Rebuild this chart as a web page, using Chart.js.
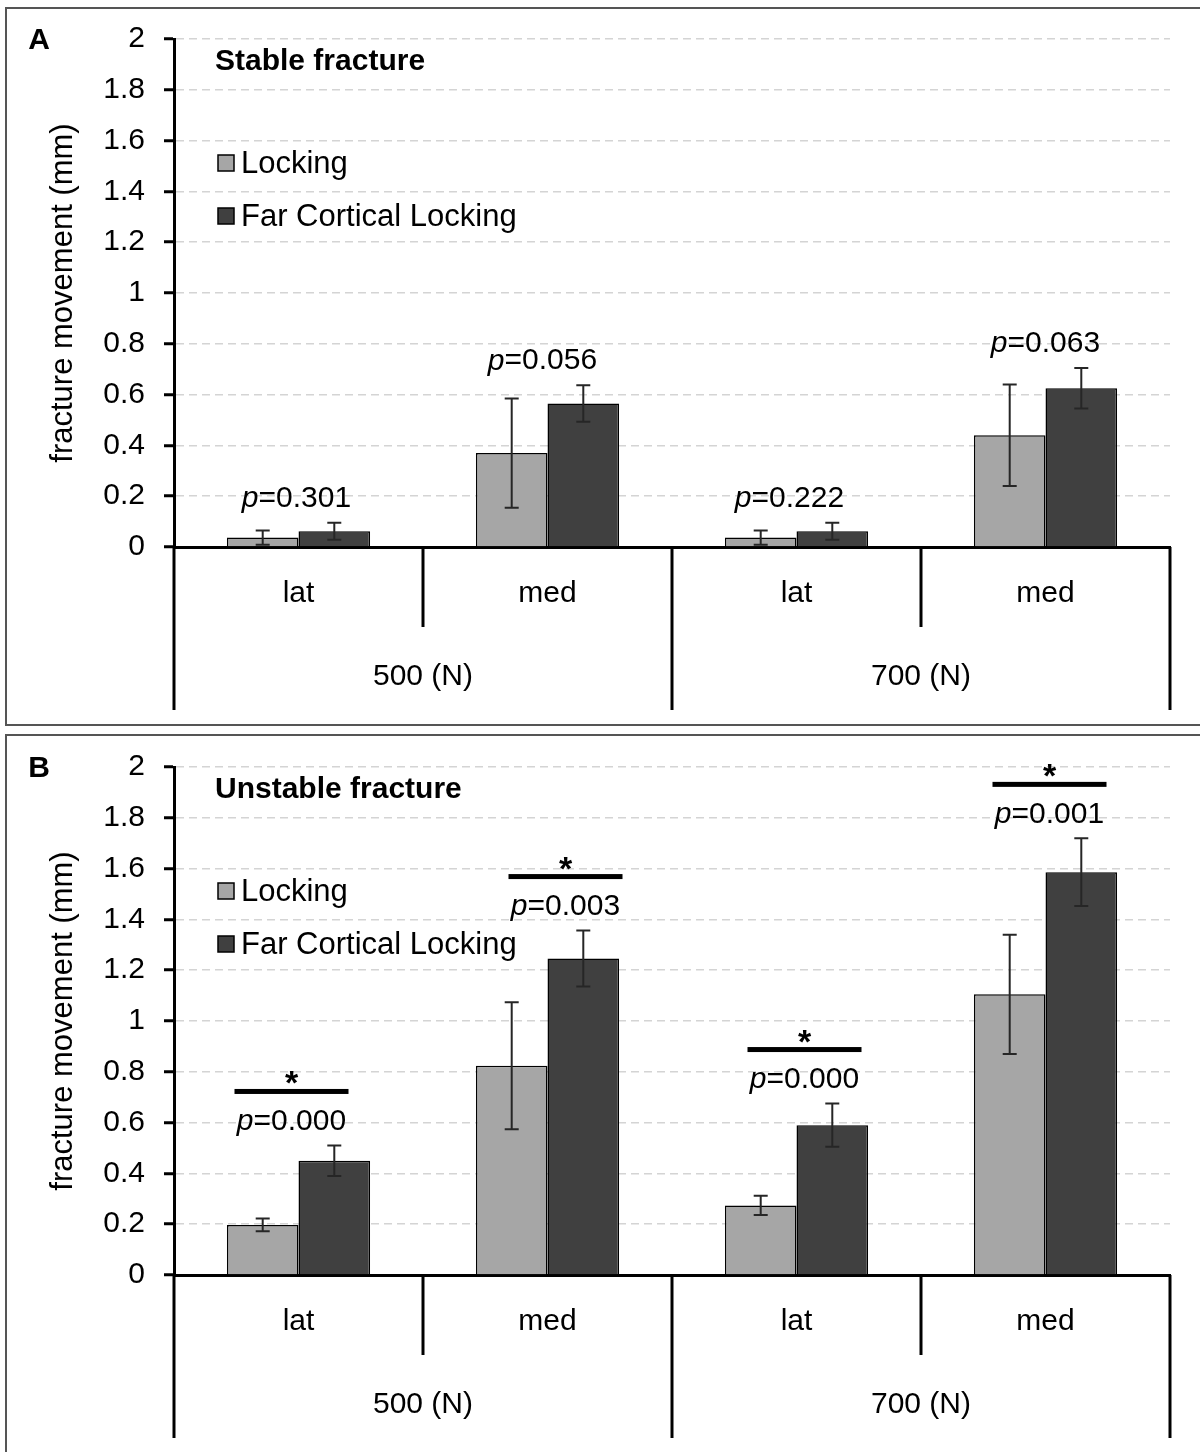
<!DOCTYPE html>
<html>
<head>
<meta charset="utf-8">
<script src="https://cdn.jsdelivr.net/npm/chart.js@4.4.1/dist/chart.umd.min.js"></script>
<style>
  html, body { margin: 0; padding: 0; background: #fff; overflow: hidden; }
  body { width: 1200px; height: 1452px; position: relative; }
  .panel { position: absolute; box-sizing: border-box; border: 2px solid #555; }
  #boxA { left: 5px; top: 7px; width: 1210px; height: 719px; }
  #boxB { left: 5px; top: 734px; width: 1210px; height: 730px; }
  canvas { position: absolute; left: 0; }
  #chartA { top: 0; }
  #chartB { top: 728px; }
</style>
</head>
<body>
<div class="panel" id="boxA"></div>
<div class="panel" id="boxB"></div>
<canvas id="chartA" width="1200" height="728"></canvas>
<canvas id="chartB" width="1200" height="724"></canvas>
<script>
const categories = ['lat', 'med', 'lat', 'med'];
const loadGroups = ['500 (N)', '700 (N)'];
const seriesNames = ['Locking', 'Far Cortical Locking'];
const seriesColors = ['#a6a6a6', '#404040'];

// stable fracture (panel A)
const stableLocking = [0.037, 0.37, 0.037, 0.44];
const stableLockingErr = [0.028, 0.215, 0.028, 0.2];
const stableFCL = [0.062, 0.565, 0.062, 0.625];
const stableFCLErr = [0.033, 0.072, 0.033, 0.08];
const stableP = ['0.301', '0.056', '0.222', '0.063'];
const stableSig = [false, false, false, false];

// unstable fracture (panel B)
const unstableLocking = [0.197, 0.824, 0.274, 1.105];
const unstableLockingErr = [0.025, 0.25, 0.038, 0.235];
const unstableFCL = [0.45, 1.246, 0.59, 1.586];
const unstableFCLErr = [0.06, 0.11, 0.085, 0.133];
const unstableP = ['0.000', '0.003', '0.000', '0.001'];
const unstableSig = [true, true, true, true];

const yMin = 0;
const yMax = 2;
const yStep = 0.2;

const FONT = '"Liberation Sans", Arial, sans-serif';

const panelPlugin = {
    id: 'panelExtras',
    afterDatasetsDraw(chart) {
        const ctx = chart.ctx;
        const y = chart.scales.y;
        const errs = chart.options.plugins.panelExtras.errors;
        ctx.save();
        ctx.strokeStyle = '#262626';
        ctx.lineWidth = 2;
        chart.data.datasets.forEach((ds, d) => {
            const meta = chart.getDatasetMeta(d);
            meta.data.forEach((bar, i) => {
                const v = ds.data[i];
                const top = y.getPixelForValue(v + errs[d][i]);
                const bot = y.getPixelForValue(Math.max(0, v - errs[d][i]));
                ctx.beginPath();
                ctx.moveTo(bar.x, top); ctx.lineTo(bar.x, bot);
                ctx.moveTo(bar.x - 7, top); ctx.lineTo(bar.x + 7, top);
                ctx.moveTo(bar.x - 7, bot); ctx.lineTo(bar.x + 7, bot);
                ctx.stroke();
            });
        });
        ctx.restore();
    },
    afterDraw(chart) {
        const ctx = chart.ctx;
        const opts = chart.options.plugins.panelExtras;
        const x = chart.scales.x;
        const y = chart.scales.y;
        const area = chart.chartArea;
        const axisY = area.bottom;
        const n = categories.length;
        ctx.save();

        // category separators below the axis
        ctx.strokeStyle = '#000';
        ctx.lineWidth = 3;
        for (let i = 0; i <= n; i++) {
            const bx = x.left + i * x.width / n;
            const len = (i % 2 === 0) ? 163 : 80;
            ctx.beginPath();
            ctx.moveTo(bx, axisY);
            ctx.lineTo(bx, axisY + len);
            ctx.stroke();
        }

        ctx.fillStyle = '#000';
        ctx.font = '30px ' + FONT;
        ctx.textAlign = 'center';
        ctx.textBaseline = 'middle';
        categories.forEach((c, i) => {
            ctx.fillText(c, x.getPixelForValue(i), axisY + 47);
        });
        loadGroups.forEach((g, i) => {
            const gx = (x.getPixelForValue(i * 2) + x.getPixelForValue(i * 2 + 1)) / 2;
            ctx.fillText(g, gx, axisY + 130);
        });

        // panel letter and title
        ctx.font = 'bold 30px ' + FONT;
        ctx.fillText(opts.letter, 39, 41);
        ctx.textAlign = 'left';
        ctx.font = 'bold 30px ' + FONT;
        ctx.fillText(opts.title, 215, area.top + 23);

        // legend
        ctx.font = '31px ' + FONT;
        chart.data.datasets.forEach((ds, d) => {
            const ly = area.top + 124 + d * 53;
            ctx.fillStyle = ds.backgroundColor;
            ctx.fillRect(218, ly - 8, 16, 16);
            ctx.strokeStyle = '#000';
            ctx.lineWidth = 1.5;
            ctx.strokeRect(218, ly - 8, 16, 16);
            ctx.fillStyle = '#000';
            ctx.fillText(ds.label, 241, ly + 1);
        });

        // p values and significance marks
        opts.pValues.forEach((p, i) => {
            let errTop = 0;
            chart.data.datasets.forEach((ds, d) => {
                errTop = Math.max(errTop, ds.data[i] + opts.errors[d][i]);
            });
            const cx = x.getPixelForValue(i) + opts.shift[i];
            const py = y.getPixelForValue(errTop) - 24;
            ctx.font = 'italic 30px ' + FONT;
            const w1 = ctx.measureText('p').width;
            ctx.font = '30px ' + FONT;
            const rest = '=' + p;
            const w2 = ctx.measureText(rest).width;
            const sx = cx - (w1 + w2) / 2;
            ctx.textAlign = 'left';
            ctx.font = 'italic 30px ' + FONT;
            ctx.fillText('p', sx, py);
            ctx.font = '30px ' + FONT;
            ctx.fillText(rest, sx + w1, py);
            if (opts.sig[i]) {
                const by = py - 30;
                ctx.fillRect(cx - 57, by - 2.5, 114, 5);
                ctx.textAlign = 'center';
                ctx.textBaseline = 'alphabetic';
                ctx.font = 'bold 34px ' + FONT;
                ctx.fillText('*', cx, by + 3);
                ctx.textBaseline = 'middle';
            }
        });
        ctx.restore();
    }
};

function makePanel(canvasId, letter, title, locking, lockingErr, fcl, fclErr, pValues, sig, shift) {
    const canvas = document.getElementById(canvasId);
    return new Chart(canvas.getContext('2d'), {
        type: 'bar',
        data: {
            labels: categories,
            datasets: [{
                label: seriesNames[0],
                data: locking,
                backgroundColor: seriesColors[0],
                borderColor: '#000',
                borderWidth: 1.5
            }, {
                label: seriesNames[1],
                data: fcl,
                backgroundColor: seriesColors[1],
                borderColor: '#000',
                borderWidth: 1.5
            }]
        },
        options: {
            responsive: false,
            animation: false,
            events: [],
            layout: {
                padding: { top: 39, right: 30, left: 0, bottom: canvas.height - 547 }
            },
            datasets: {
                bar: { categoryPercentage: 0.575, barPercentage: 1 }
            },
            scales: {
                x: {
                    ticks: { display: false },
                    grid: { display: false },
                    border: { display: true, color: '#000', width: 3 },
                    afterFit: s => { s.height = 0; }
                },
                y: {
                    min: yMin,
                    max: yMax,
                    ticks: {
                        stepSize: yStep,
                        padding: 19,
                        color: '#000',
                        font: { family: FONT, size: 30 },
                        callback: v => String(+v.toFixed(1))
                    },
                    grid: {
                        color: '#d4d4d4',
                        lineWidth: 1.5,
                        drawTicks: true,
                        tickLength: 10,
                        tickColor: '#000',
                        tickWidth: 3
                    },
                    border: { display: true, color: '#000', width: 3, dash: [8, 5] },
                    title: {
                        display: true,
                        text: 'fracture movement (mm)',
                        color: '#000',
                        font: { family: FONT, size: 31 },
                        padding: { top: 45, bottom: 0 }
                    },
                    afterFit: s => { s.width = 174; }
                }
            },
            plugins: {
                legend: { display: false },
                tooltip: { enabled: false },
                panelExtras: {
                    letter: letter,
                    title: title,
                    errors: [lockingErr, fclErr],
                    pValues: pValues,
                    sig: sig,
                    shift: shift
                }
            }
        },
        plugins: [panelPlugin]
    });
}

makePanel('chartA', 'A', 'Stable fracture', stableLocking, stableLockingErr, stableFCL, stableFCLErr,
    stableP, stableSig, [-2, -5, -7, 0]);
makePanel('chartB', 'B', 'Unstable fracture', unstableLocking, unstableLockingErr, unstableFCL, unstableFCLErr,
    unstableP, unstableSig, [-7, 18, 8, 4]);
</script>
</body>
</html>
